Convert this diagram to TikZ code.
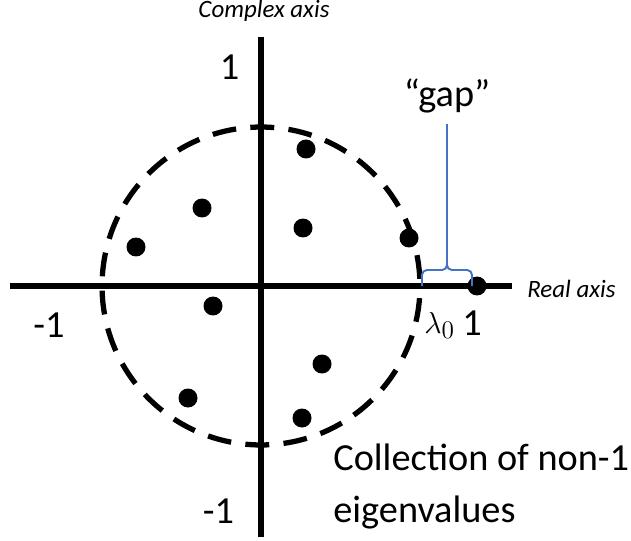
\documentclass[tikz,border=0pt]{standalone}
\usepackage{fontspec}
\setmainfont{Carlito}
\usepackage{tikz}
\usetikzlibrary{positioning}
\definecolor{gapblue}{HTML}{4472C4}

\tikzset{
  axis/.style={line width=3.4pt},
  unitcirc/.style={line width=3pt, dash pattern=on 13.6pt off 8.16pt, dash phase=17.7pt},
  eig/.style={circle, fill=black, inner sep=0pt, minimum size=0.38cm},
  biglabel/.style={font=\fontsize{21.8}{26}\selectfont, inner sep=0pt},
  axislabel/.style={font=\fontsize{14.2}{17}\selectfont\itshape, inner sep=0pt},
  gapline/.style={gapblue, line width=1.1pt, rounded corners=2.8pt},
}

\begin{document}
\begin{tikzpicture}[x=0.02cm, y=-0.02cm]
  \useasboundingbox (0,0) rectangle (631,540);
  % axes
  \coordinate (O) at (261,286);
  \coordinate (xmin) at (10,286);
  \coordinate (xmax) at (512,286);
  \coordinate (ymin) at (261,537);
  \coordinate (ymax) at (261,37);
  \draw[axis] (xmin) -- (xmax);
  \draw[axis] (ymin) -- (ymax);
  % circle of radius lambda_0
  \draw[unitcirc] (O) circle [radius=3.18cm];
  % eigenvalues
  \foreach \px/\py [count=\i] in {306/149, 202/208, 136/247, 303/228, 409/238,
                                  213/306, 322/364, 188/398, 302/418}
    \node[eig] (e\i) at (\px,\py) {};
  \node[eig] (one) at (477,286) {};
  % labels
  \node[axislabel, anchor=base] (imlab) at (264,18) {Complex axis};
  \node[axislabel, anchor=base west] (relab) at (527,297) {Real axis};
  \node[biglabel, anchor=base] (ytop) at (229.5,80) {1};
  \node[biglabel, anchor=base] (ybot) at (218.5,523) {-1};
  \node[biglabel, anchor=base] (xleft) at (49,337) {-1};
  \node[biglabel, anchor=base] (xright) at (472,335) {1};
  \node[anchor=base west, inner sep=0pt, font=\fontsize{19}{22}\selectfont] (lam) at (424,333) {$\lambda_0$};
  \node[biglabel, anchor=base west] (coll) at (333,470) {Collection of non-1};
  \node[biglabel, anchor=base west] (eigv) at (333,522) {eigenvalues};
  % gap brace
  \node[biglabel, anchor=base] (gaplab) at (447,107) {``gap''};
  \coordinate (gapL) at (422,286);
  \coordinate (gapR) at (472,286);
  \coordinate (gaptip) at (447,262);
  \draw[gapline] (gapL) -- (422,270) -- (447,270) -- (gaptip);
  \draw[gapline] (gapR) -- (472,270) -- (447,270) -- (gaptip);
  \draw[gapline] (gaptip) -- ([yshift=-6pt]gaplab.south);
\end{tikzpicture}
\end{document}
